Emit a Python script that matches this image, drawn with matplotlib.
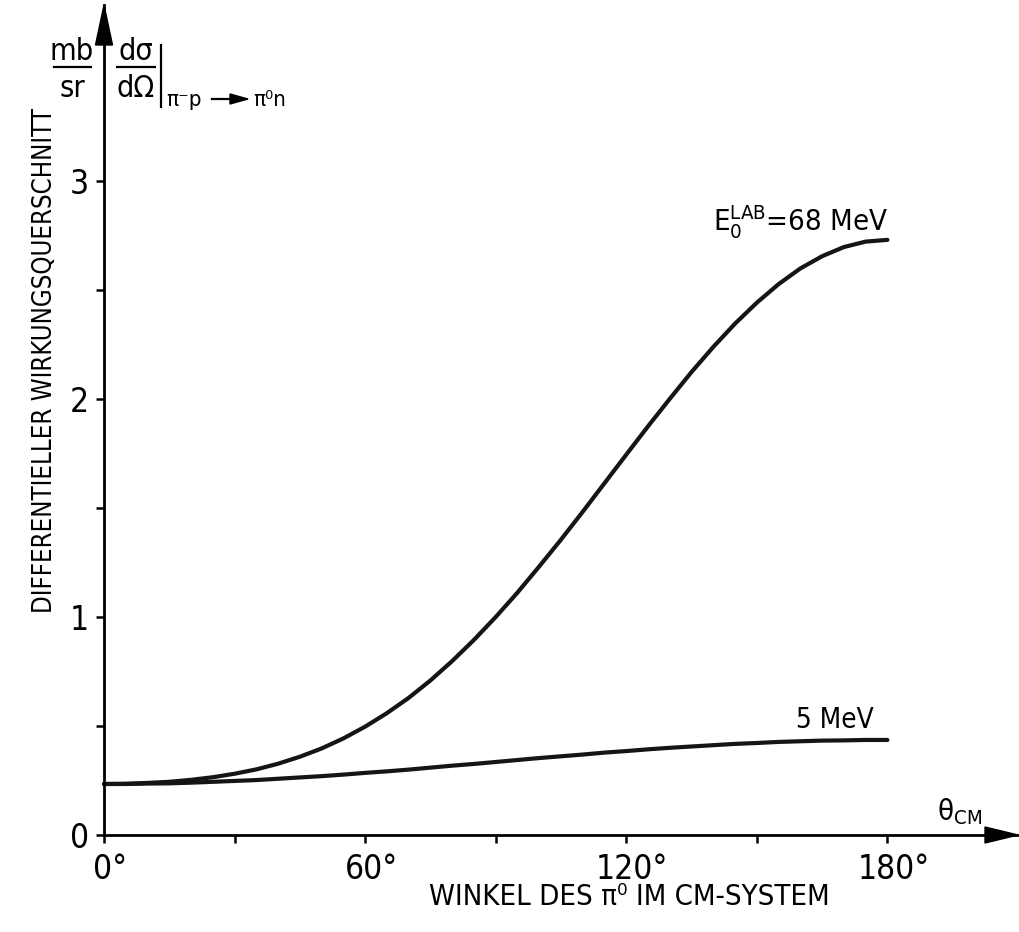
import matplotlib
matplotlib.use("Agg")
import matplotlib.pyplot as plt
import matplotlib.transforms as mtransforms
from matplotlib.patches import Polygon
from matplotlib.lines import Line2D

# ---- data ----
angles = [0, 5, 10, 15, 20, 25, 30, 35, 40, 45, 50, 55, 60, 65, 70, 75, 80, 85, 90,
          95, 100, 105, 110, 115, 120, 125, 130, 135, 140, 145, 150, 155, 160, 165,
          170, 175, 180]
xs_68mev = [0.234, 0.235, 0.239, 0.244, 0.253, 0.265, 0.281, 0.301, 0.327, 0.359,
            0.397, 0.443, 0.497, 0.559, 0.629, 0.709, 0.798, 0.895, 1.000,
            1.112, 1.232, 1.355, 1.483, 1.614, 1.745, 1.875, 2.001, 2.124, 2.239,
            2.346, 2.442, 2.527, 2.599, 2.655, 2.697, 2.722, 2.730]
xs_5mev = [0.234, 0.234, 0.236, 0.237, 0.240, 0.244, 0.248, 0.252, 0.258, 0.264,
           0.270, 0.277, 0.285, 0.292, 0.300, 0.309, 0.318, 0.326, 0.335,
           0.344, 0.353, 0.361, 0.369, 0.378, 0.385, 0.393, 0.400, 0.406, 0.412,
           0.418, 0.422, 0.427, 0.430, 0.433, 0.434, 0.436, 0.436]
x_major = [0, 60, 120, 180]
x_minor = [30, 90, 150]
x_ticklabels = ["0°", "60°", "120°", "180°"]
y_major = [0, 1, 2, 3]
y_minor = [0.5, 1.5, 2.5]
y_ticklabels = ["0", "1", "2", "3"]

FONT = ["Liberation Sans Narrow", "DejaVu Sans"]
plt.rcParams["font.family"] = FONT
plt.rcParams["font.stretch"] = "condensed"
plt.rcParams["mathtext.fontset"] = "custom"
plt.rcParams["mathtext.rm"] = "Liberation Sans Narrow"

W, H = 1019, 932
fig = plt.figure(figsize=(W / 100, H / 100), dpi=100)

def fx(px):
    return px / W

def fy(py):
    return (H - py) / H

x0, x1 = 104, 1018
y0, y1 = 835, 5
ax = fig.add_axes([fx(x0), fy(y0), fx(x1) - fx(x0), fy(y1) - fy(y0)])
XMAX = 210.0
YMAX = (y0 - y1) / 218.0
ax.set_xlim(0, XMAX)
ax.set_ylim(0, YMAX)

for s in ["top", "right"]:
    ax.spines[s].set_visible(False)
for s in ["left", "bottom"]:
    ax.spines[s].set_linewidth(2.0)
    ax.spines[s].set_color("black")

ax.set_xticks(x_major)
ax.set_xticks(x_minor, minor=True)
ax.set_xticklabels(x_ticklabels, fontsize=24)
ax.set_yticks(y_major)
ax.set_yticks(y_minor, minor=True)
ax.set_yticklabels(y_ticklabels, fontsize=24)
ax.tick_params(which="both", direction="out", length=6, width=1.8, color="black")
ax.tick_params(axis="x", pad=7)
ax.tick_params(axis="y", pad=5)
shift = mtransforms.ScaledTranslation(6 / 100, 0, fig.dpi_scale_trans)
for lab in ax.get_xticklabels():
    lab.set_transform(lab.get_transform() + shift)

ax.plot(angles, xs_68mev, color="#151515", lw=3.0, solid_capstyle="round", clip_on=False)
ax.plot(angles, xs_5mev, color="#151515", lw=3.0, solid_capstyle="round", clip_on=False)

# arrow heads
px_per_deg = (x1 - x0) / XMAX
px_per_unit = 218.0
hx = Polygon([[XMAX, 0], [XMAX - 33 / px_per_deg, 8 / px_per_unit],
              [XMAX - 33 / px_per_deg, -8 / px_per_unit]], closed=True,
             facecolor="black", edgecolor="black", clip_on=False, zorder=5)
hy = Polygon([[0, YMAX], [-8.5 / px_per_deg, YMAX - 40 / px_per_unit],
              [8.5 / px_per_deg, YMAX - 40 / px_per_unit]], closed=True,
             facecolor="black", edgecolor="black", clip_on=False, zorder=5)
ax.add_patch(hx)
ax.add_patch(hy)

# curve labels
ax.text(140, 2.77, r"$\mathregular{E_0^{LAB}}$=68 MeV", fontsize=21, ha="left", va="baseline")
ax.text(159, 0.49, "5 MeV", fontsize=20, ha="left", va="baseline")
ax.text(191.4, 0.07, r"$\mathregular{\theta_{CM}}$", fontsize=21, ha="left", va="baseline")

# axis titles
fig.text(fx(629), fy(905), "WINKEL DES π⁰ IM CM-SYSTEM", fontsize=21,
         ha="center", va="baseline")
fig.text(fx(45), fy(361), "DIFFERENTIELLER WIRKUNGSQUERSCHNITT", fontsize=18.5,
         ha="center", va="center", rotation=90)

# units "mb / sr"
fig.text(fx(72), fy(60), "mb", fontsize=22, ha="center", va="baseline")
fig.text(fx(72), fy(97), "sr", fontsize=22, ha="center", va="baseline")
fig.add_artist(Line2D([fx(54), fx(91)], [fy(67), fy(67)], color="black", lw=1.6))

# dσ/dΩ |π⁻p → π⁰n
fig.text(fx(136), fy(60), "dσ", fontsize=22, ha="center", va="baseline")
fig.text(fx(136), fy(97), "dΩ", fontsize=22, ha="center", va="baseline")
fig.add_artist(Line2D([fx(117), fx(155)], [fy(67), fy(67)], color="black", lw=1.6))
fig.add_artist(Line2D([fx(161), fx(161)], [fy(45), fy(107)], color="black", lw=1.6))
fig.text(fx(166), fy(106), "π⁻p", fontsize=16, ha="left", va="baseline")
fig.add_artist(Line2D([fx(212), fx(238)], [fy(99), fy(99)], color="black", lw=1.6))
fig.add_artist(Polygon([[fx(248), fy(99)], [fx(230), fy(94)], [fx(230), fy(104)]],
                       closed=True, transform=fig.transFigure, facecolor="black",
                       edgecolor="black"))
fig.text(fx(253), fy(106), "π⁰n", fontsize=16, ha="left", va="baseline")

fig.savefig("out.png", dpi=100, facecolor="white")
